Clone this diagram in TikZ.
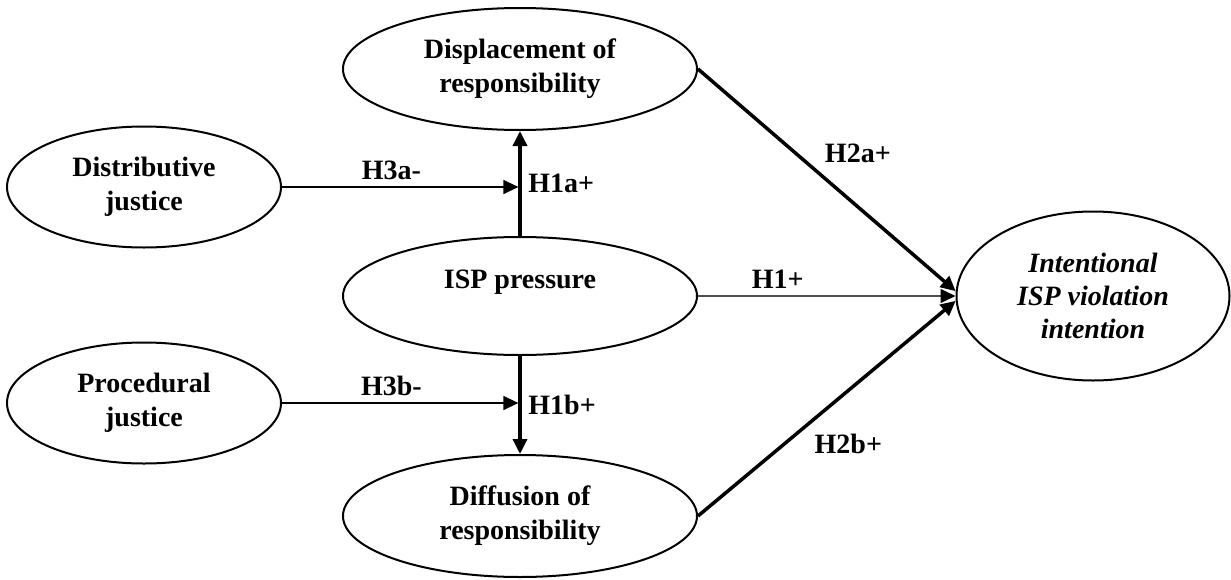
\documentclass[tikz,border=0pt]{standalone}
\usepackage{fontspec}
\setmainfont{Liberation Serif}
\usetikzlibrary{shapes.geometric}
\usetikzlibrary{positioning}
\usetikzlibrary{arrows.meta}
\tikzset{node distance=110pt, % Distance between construct centres. Change if necessary.
on grid,
construct/.style={ % Sets the properties for each construct
ellipse, draw,
line width=1pt,
align=center,
minimum width=177pt, minimum height=61pt},
justice/.style={construct, % Smaller ellipses on the left
minimum width=137pt, minimum height=60.5pt},
every edge/.style={ % Sets the properties for each path
draw,
->,>={Triangle[length=7.5pt,width=7pt]}, % Filled triangular heads
auto},
strong/.style={line width=1.75pt}, % Thick paths
weak/.style={line width=0.65pt}, % Thin paths
grey/.style={draw=black!70, -{Triangle[length=7.5pt,width=7pt,black]}}} % Grey line, black head

\begin{document}
\begin{tikzpicture}[font=\fontsize{14}{17}\selectfont\bfseries]
	\useasboundingbox (-260pt,-141.5pt) rectangle (355.5pt,148pt);

	\node[construct, minimum height=59pt] (isp) {ISP pressure\\ \mbox{}};
	\node[construct, above=113.5pt of isp] (disp) {Displacement of\\responsibility};
	\node[construct, below=of isp] (diff) {Diffusion of\\responsibility};

	\node[justice, above left=54.5pt and 188pt of isp] (dist) {Distributive\\justice};
	\node[justice, below left=53.5pt and 188pt of isp] (proc) {Procedural\\justice};

	\node[construct, minimum width=136.5pt, minimum height=84.5pt,
		font=\fontsize{14}{16.5}\selectfont\bfseries\itshape,
		right=286.5pt of isp] (intent) {Intentional\\ISP violation\\intention};

	\coordinate (ja) at (isp |- dist);
	\coordinate (jb) at (isp |- proc);

	\draw (isp) edge[strong] node[right] {H1a+} (disp);
	\draw (isp) edge[strong] node[right] {H1b+} (diff);
	\draw (dist) edge[weak, shorten >=0.8pt] node[pos=0.46] {H3a-} (ja);
	\draw (proc) edge[weak, shorten >=0.8pt] node[pos=0.46] {H3b-} (jb);

	\draw (isp.east) edge[weak, grey] node[above, pos=0.31] {H1+} (intent.west);
	\draw (disp.east) edge[strong] node[above right, pos=0.46] {H2a+} (intent.178);
	\draw (diff.east) edge[strong] node[below right, pos=0.42] {H2b+} (intent.182);
\end{tikzpicture}
\end{document}
